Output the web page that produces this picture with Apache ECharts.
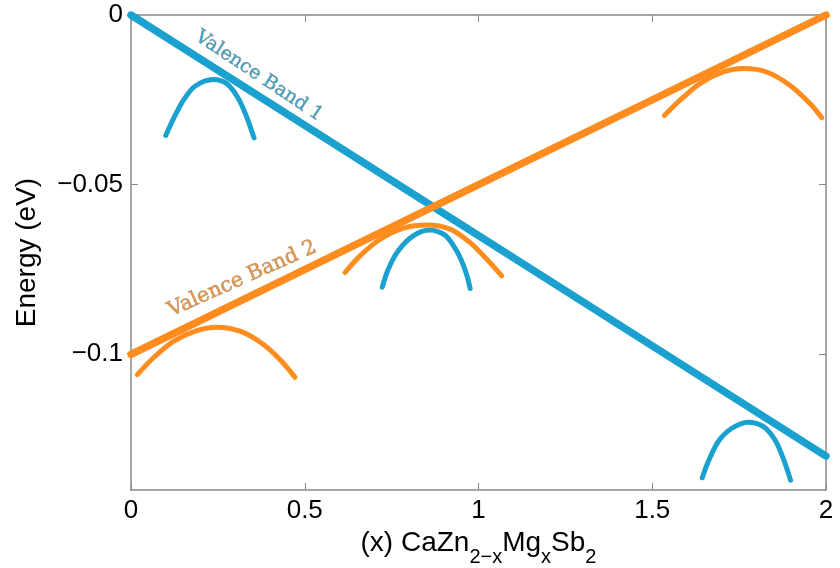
<!DOCTYPE html>
<html><head><meta charset="utf-8">
<script src="https://cdn.jsdelivr.net/npm/echarts@6/dist/echarts.min.js"></script>
<style>html,body{margin:0;padding:0;background:#fff}#c{width:840px;height:568px}</style>
</head><body><div id="c"></div>
<script>
// Data (x = Mg content, y = energy in eV)
var band1Line = [[0, 0], [2, -0.13]];
var band2Line = [[0, -0.1], [2, 0]];
var band1Curves = [
  [[0.100,-0.0355],[0.122,-0.0306],[0.151,-0.0251],[0.184,-0.0210],[0.237,-0.0190],[0.275,-0.0202],[0.309,-0.0246],[0.333,-0.0301],[0.354,-0.0362]],
  [[0.723,-0.0802],[0.740,-0.0750],[0.769,-0.0695],[0.812,-0.0651],[0.860,-0.0634],[0.904,-0.0649],[0.937,-0.0695],[0.961,-0.0750],[0.976,-0.0806]],
  [[1.644,-0.1364],[1.661,-0.1317],[1.690,-0.1257],[1.729,-0.1218],[1.776,-0.1200],[1.820,-0.1213],[1.853,-0.1252],[1.877,-0.1307],[1.898,-0.1371]]
];
var band2Curves = [
  [[0.018,-0.1060],[0.064,-0.1011],[0.122,-0.0962],[0.189,-0.0930],[0.247,-0.0920],[0.314,-0.0932],[0.381,-0.0971],[0.434,-0.1021],[0.472,-0.1068]],
  [[0.616,-0.0759],[0.659,-0.0710],[0.717,-0.0661],[0.784,-0.0628],[0.851,-0.0619],[0.918,-0.0631],[0.976,-0.0671],[1.024,-0.0720],[1.067,-0.0769]],
  [[1.535,-0.0296],[1.580,-0.0251],[1.637,-0.0202],[1.704,-0.0168],[1.762,-0.0158],[1.829,-0.0168],[1.896,-0.0207],[1.954,-0.0261],[1.988,-0.0303]]
];
var bandLabels = [
  {name: 'Valence Band 1', pos: [0.368, -0.0180], rotate: -33.5, size: 19, color: '#1590ba'},
  {name: 'Valence Band 2', pos: [0.320, -0.0778], rotate: 24, size: 20.5, color: '#df7c1a'}
];
var yTicks = [-0.1, -0.05, 0];
var xTicks = [0, 0.5, 1, 1.5, 2];

var BLUE = '#1aa1cf', ORANGE = '#ff8c1f';
var series = [];
function lineSeries(data, color, w) {
  return {type: 'line', data: data, symbol: 'none', smooth: 0.3, animation: false,
    lineStyle: {color: color, width: w, cap: 'round'}, z: 3};
}
series.push(lineSeries(band1Line, BLUE, 7.5));
series.push(lineSeries(band2Line, ORANGE, 7.5));
band1Curves.forEach(function (c) { series.push(lineSeries(c, BLUE, 5)); });
band2Curves.forEach(function (c) { series.push(lineSeries(c, ORANGE, 5)); });
bandLabels.forEach(function (b) {
  series.push({type: 'scatter', symbolSize: 0, animation: false, silent: true, z: 5,
    data: [{value: b.pos}],
    label: {show: true, position: 'inside', formatter: b.name, rotate: b.rotate,
      color: b.color, fontFamily: 'DejaVu Serif', fontSize: b.size,
      textBorderColor: 'rgba(60,40,20,0.4)', textBorderWidth: 0.8}});
});

function ticks(vals) {
  return {show: true, inside: true, length: 7, lineStyle: {color: '#888'}, customValues: vals};
}
var axLine = {show: true, onZero: false, lineStyle: {color: '#888', width: 1.5}};
var fmt = function (v) { var s = String(+v.toFixed(4)); return s.replace('-', '\u2212'); };
var FONT = 'Liberation Sans';

var option = {
  backgroundColor: '#fff',
  animation: false,
  grid: {left: 131, right: 14, top: 15, bottom: 78, containLabel: false, outerBoundsMode: 'none'},
  xAxis: [
    {type: 'value', min: 0, max: 2, position: 'bottom', axisLine: axLine, axisTick: ticks(xTicks), splitLine: {show: false},
      axisLabel: {color: '#000', fontSize: 26, fontFamily: FONT, margin: 8, formatter: fmt, customValues: xTicks},
      name: '{n|(x) CaZn}{s|2\u2212x}{n|Mg}{s|x}{n|Sb}{s|2}',
      nameLocation: 'middle', nameGap: 29,
      nameTextStyle: {rich: {
        n: {fontSize: 28, lineHeight: 28, color: '#000', fontFamily: FONT, verticalAlign: 'top'},
        s: {fontSize: 20, lineHeight: 20, color: '#000', fontFamily: FONT, verticalAlign: 'top', padding: [19, 0, 0, 0]}
      }}},
    {type: 'value', min: 0, max: 2, position: 'top', axisLine: axLine, axisTick: ticks(xTicks), splitLine: {show: false}, axisLabel: {show: false}}
  ],
  yAxis: [
    {type: 'value', min: -0.14, max: 0, position: 'left', axisLine: axLine, axisTick: ticks(yTicks), splitLine: {show: false},
      axisLabel: {color: '#000', fontSize: 26, fontFamily: FONT, margin: 8, formatter: fmt, customValues: yTicks},
      name: 'Energy (eV)', nameLocation: 'middle', nameGap: 90,
      nameTextStyle: {fontSize: 28, color: '#000', fontFamily: FONT}},
    {type: 'value', min: -0.14, max: 0, position: 'right', axisLine: axLine, axisTick: ticks(yTicks), splitLine: {show: false}, axisLabel: {show: false}}
  ],
  series: series
};
var chart = echarts.init(document.getElementById('c'), null, {renderer: 'canvas'});
chart.setOption(option);
</script></body></html>
